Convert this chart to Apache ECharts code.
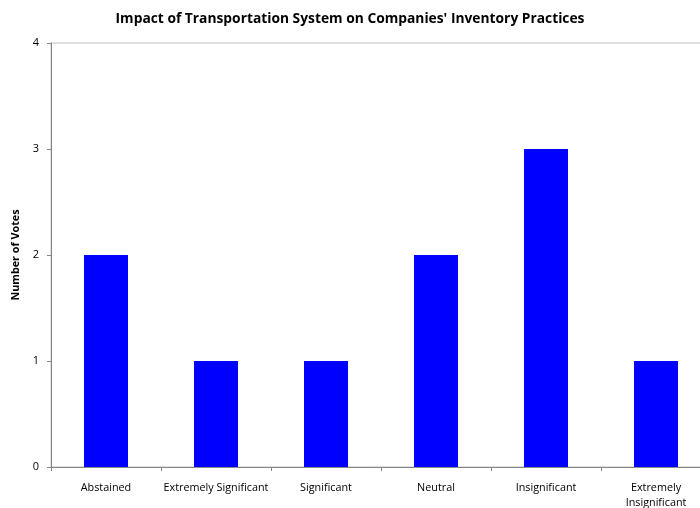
<!DOCTYPE html>
<html><head><meta charset="utf-8">
<script src="https://cdn.jsdelivr.net/npm/echarts@6/dist/echarts.min.js"></script>
<style>html,body{margin:0;padding:0;background:#fff}#c{width:700px;height:508px}</style>
</head><body><div id="c"></div>
<script>
const categories = ['Abstained','Extremely Significant','Significant','Neutral','Insignificant','Extremely Insignificant'];
const votes = [2,1,1,2,3,1];
const yTicks = [0,1,2,3,4];
const FONT = '"Open Sans", "Liberation Sans", sans-serif';
const chart = echarts.init(document.getElementById('c'));
chart.setOption({
  animation:false,
  title:{text:"Impact of Transportation System on Companies' Inventory Practices",left:'center',top:7,
    textStyle:{fontFamily:FONT,fontSize:13.8,fontWeight:'bold',color:'#000'}},
  grid:{left:51,top:43,width:660,height:424,outerBoundsMode:'none',containLabel:false,show:true,borderColor:'#c0c0c0',borderWidth:1},
  xAxis:{type:'category',data:categories,
    axisLine:{lineStyle:{color:'#868686'}},
    axisTick:{show:true,alignWithLabel:false,length:4,lineStyle:{color:'#868686'}},
    axisLabel:{color:'#000',fontFamily:FONT,fontSize:10.8,margin:13,interval:0,lineHeight:15,
      formatter:function(v,i){return i===categories.length-1?v.replace(' ','\n'):v;}}},
  yAxis:{type:'value',min:yTicks[0],max:yTicks[yTicks.length-1],interval:1,
    name:'Number of Votes',nameLocation:'middle',nameGap:30,nameRotate:90,
    nameTextStyle:{fontFamily:FONT,fontSize:10.8,fontWeight:'bold',color:'#000'},
    axisLine:{show:true,lineStyle:{color:'#868686'}},
    axisTick:{show:true,length:4,lineStyle:{color:'#868686'}},
    splitLine:{show:false},
    axisLabel:{color:'#000',fontFamily:FONT,fontSize:11,margin:12}},
  series:[{type:'bar',data:votes,barWidth:44,itemStyle:{color:'#0000ff'}}]
});
</script></body></html>
